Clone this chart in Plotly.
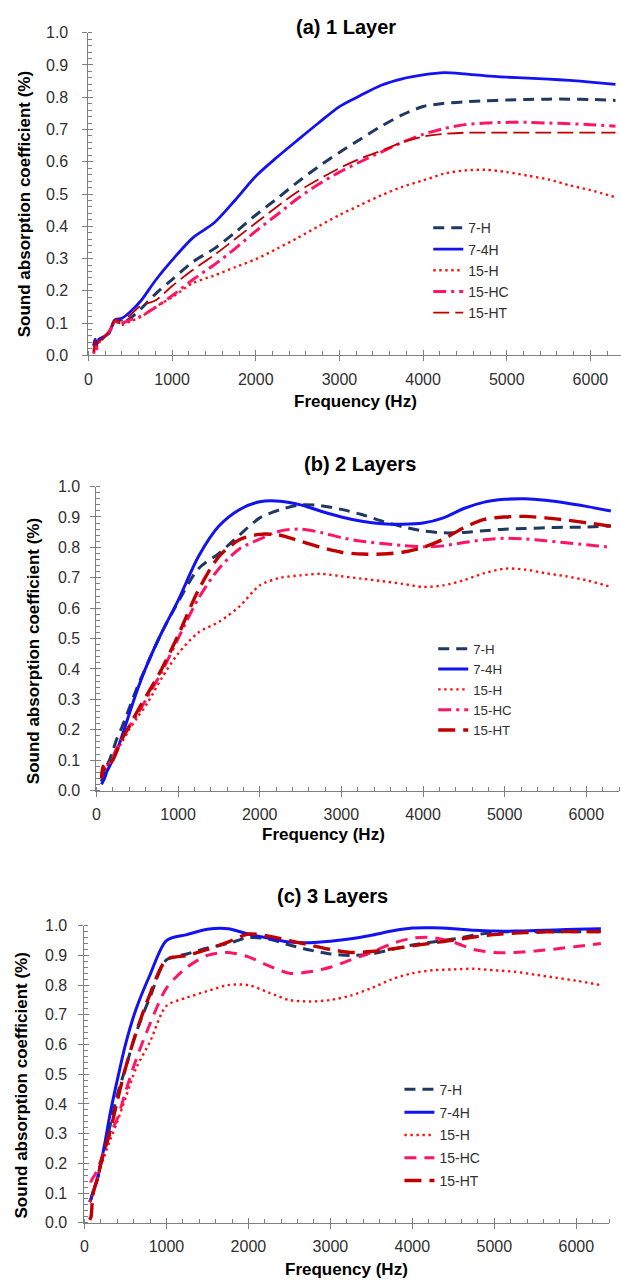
import plotly.graph_objects as go

W, H = 621, 1288

# Frequencies (Hz) at which every curve is sampled
FREQ = [63, 80, 100, 125, 160, 200, 250, 315, 400, 500, 630, 800,
        1000, 1250, 1500, 1750, 2000, 2250, 2500, 2750, 3000, 3250,
        3500, 3750, 4000, 4250, 4500, 4750, 5000, 5250, 5500, 5750,
        6000, 6300]

SERIES = ["7-H", "7-4H", "15-H", "15-HC", "15-HT"]
PANEL_TITLES = ["(a) 1 Layer", "(b) 2 Layers", "(c) 3 Layers"]
Y_TICKS = [0.0, 0.1, 0.2, 0.3, 0.4, 0.5, 0.6, 0.7, 0.8, 0.9, 1.0]
X_TICKS = [0, 1000, 2000, 3000, 4000, 5000, 6000]

# (a) one layer
A_7H = [0.030, 0.045, 0.030, 0.045, 0.050, 0.060, 0.070, 0.105, 0.100, 0.115, 0.145, 0.190,
        0.235, 0.290, 0.330, 0.380, 0.435, 0.485, 0.537, 0.585, 0.629, 0.670,
        0.710, 0.745, 0.771, 0.781, 0.786, 0.789, 0.791, 0.793, 0.794, 0.794,
        0.793, 0.790]
A_74H = [0.030, 0.050, 0.035, 0.050, 0.055, 0.060, 0.070, 0.110, 0.115, 0.135, 0.170, 0.232,
         0.295, 0.365, 0.410, 0.480, 0.555, 0.613, 0.667, 0.720, 0.771, 0.805,
         0.837, 0.857, 0.869, 0.876, 0.872, 0.866, 0.862, 0.859, 0.856, 0.852,
         0.847, 0.840]
A_15H = [0.015, 0.040, 0.025, 0.045, 0.050, 0.060, 0.070, 0.105, 0.095, 0.105, 0.120, 0.150,
         0.180, 0.224, 0.247, 0.273, 0.298, 0.330, 0.364, 0.400, 0.435, 0.466,
         0.496, 0.522, 0.542, 0.563, 0.573, 0.575, 0.568, 0.557, 0.545, 0.527,
         0.512, 0.490]
A_15HC = [0.005, 0.030, 0.020, 0.040, 0.050, 0.060, 0.075, 0.105, 0.100, 0.110, 0.122, 0.148,
          0.185, 0.235, 0.280, 0.330, 0.385, 0.435, 0.486, 0.530, 0.568, 0.600,
          0.630, 0.660, 0.685, 0.703, 0.715, 0.720, 0.722, 0.722, 0.720, 0.718,
          0.715, 0.710]
A_15HT = [0.010, 0.045, 0.025, 0.045, 0.050, 0.060, 0.075, 0.110, 0.108, 0.125, 0.155, 0.170,
          0.215, 0.265, 0.310, 0.360, 0.410, 0.460, 0.507, 0.545, 0.580, 0.610,
          0.634, 0.660, 0.678, 0.686, 0.690, 0.690, 0.690, 0.690, 0.690, 0.690,
          0.690, 0.690]

# (b) two layers
B_7H = [0.030, 0.050, 0.060, 0.080, 0.100, 0.130, 0.170, 0.210, 0.270, 0.340, 0.420, 0.520,
        0.620, 0.730, 0.780, 0.840, 0.897, 0.924, 0.940, 0.937, 0.925, 0.908,
        0.886, 0.868, 0.854, 0.848, 0.849, 0.855, 0.860, 0.862, 0.865, 0.866,
        0.867, 0.870]
B_74H = [0.020, 0.030, 0.040, 0.060, 0.080, 0.100, 0.130, 0.180, 0.250, 0.330, 0.420, 0.520,
         0.625, 0.770, 0.870, 0.924, 0.950, 0.952, 0.940, 0.919, 0.900, 0.886,
         0.878, 0.876, 0.880, 0.897, 0.928, 0.949, 0.958, 0.960, 0.955, 0.946,
         0.935, 0.920]
B_15H = [0.050, 0.070, 0.070, 0.080, 0.090, 0.100, 0.130, 0.160, 0.200, 0.240, 0.290, 0.370,
         0.450, 0.520, 0.555, 0.605, 0.675, 0.700, 0.708, 0.713, 0.705, 0.697,
         0.689, 0.680, 0.670, 0.675, 0.692, 0.715, 0.730, 0.727, 0.715, 0.705,
         0.692, 0.670]
B_15HC = [0.040, 0.070, 0.070, 0.080, 0.090, 0.110, 0.140, 0.170, 0.210, 0.250, 0.310, 0.390,
          0.500, 0.632, 0.730, 0.795, 0.827, 0.854, 0.860, 0.849, 0.832, 0.820,
          0.813, 0.806, 0.802, 0.805, 0.816, 0.825, 0.830, 0.828, 0.822, 0.815,
          0.809, 0.800]
B_15HT = [0.040, 0.080, 0.070, 0.080, 0.090, 0.100, 0.130, 0.170, 0.210, 0.260, 0.320, 0.400,
          0.510, 0.660, 0.770, 0.825, 0.843, 0.840, 0.820, 0.800, 0.784, 0.778,
          0.778, 0.784, 0.800, 0.827, 0.865, 0.892, 0.900, 0.902, 0.897, 0.890,
          0.881, 0.870]

# (c) three layers
C_7H = [0.070, 0.080, 0.100, 0.120, 0.150, 0.200, 0.250, 0.330, 0.430, 0.520, 0.640, 0.760,
        0.885, 0.905, 0.925, 0.940, 0.960, 0.955, 0.935, 0.918, 0.905, 0.900,
        0.905, 0.920, 0.935, 0.945, 0.955, 0.968, 0.978, 0.980, 0.980, 0.980,
        0.980, 0.980]
C_74H = [0.070, 0.080, 0.100, 0.120, 0.150, 0.200, 0.270, 0.370, 0.480, 0.600, 0.720, 0.835,
         0.950, 0.970, 0.988, 0.990, 0.972, 0.958, 0.945, 0.943, 0.948, 0.956,
         0.968, 0.982, 0.992, 0.993, 0.990, 0.985, 0.982, 0.982, 0.984, 0.986,
         0.988, 0.990]
C_15H = [0.070, 0.080, 0.100, 0.120, 0.150, 0.190, 0.230, 0.280, 0.340, 0.420, 0.520, 0.610,
         0.730, 0.758, 0.780, 0.800, 0.800, 0.775, 0.750, 0.745, 0.750, 0.765,
         0.790, 0.820, 0.840, 0.850, 0.853, 0.855, 0.850, 0.845, 0.835, 0.825,
         0.815, 0.800]
C_15HC = [0.140, 0.140, 0.150, 0.160, 0.180, 0.210, 0.250, 0.300, 0.350, 0.440, 0.550, 0.670,
          0.790, 0.860, 0.900, 0.910, 0.895, 0.865, 0.840, 0.845, 0.860, 0.885,
          0.910, 0.940, 0.958, 0.960, 0.945, 0.920, 0.910, 0.910, 0.915, 0.922,
          0.930, 0.940]
C_15HT = [0.010, 0.020, 0.090, 0.120, 0.150, 0.200, 0.250, 0.310, 0.410, 0.520, 0.640, 0.770,
          0.885, 0.900, 0.920, 0.945, 0.972, 0.965, 0.950, 0.935, 0.920, 0.910,
          0.913, 0.922, 0.932, 0.942, 0.952, 0.962, 0.970, 0.975, 0.978, 0.980,
          0.980, 0.980]

PANEL_DATA = [
    [A_7H, A_74H, A_15H, A_15HC, A_15HT],
    [B_7H, B_74H, B_15H, B_15HC, B_15HT],
    [C_7H, C_74H, C_15H, C_15HC, C_15HT],
]

COLORS = {"7-H": "#1f3864", "7-4H": "#1212f2", "15-H": "#ff1010",
          "15-HC": "#ff1466", "15-HT": "#c00000"}

# line style per panel: (width, dash)
STYLES = [
    {"7-H": (3.0, "11px,7px"), "7-4H": (2.8, "solid"), "15-H": (2.4, "2.4px,3.6px"),
     "15-HC": (3.0, "13px,5px,3px,5px"), "15-HT": (1.8, "16px,6px")},
    {"7-H": (3.0, "11px,7px"), "7-4H": (3.0, "solid"), "15-H": (2.4, "2.4px,3.6px"),
     "15-HC": (3.0, "13px,5px,3px,5px"), "15-HT": (3.4, "17px,8px")},
    {"7-H": (3.0, "11px,7px"), "7-4H": (3.0, "solid"), "15-H": (2.4, "2.4px,3.6px"),
     "15-HC": (3.0, "12px,8px"), "15-HT": (3.4, "17px,8px")},
]

FONT = "Arial, 'Liberation Sans', sans-serif"
AXIS_GREY = "#7f7f7f"
TEXT_DARK = "#303030"


def px(x):
    return x / W


def py(y):
    return 1 - y / H


# plot-area geometry in pixels: left, right, top (y=1), bottom (y=0), x max
PANELS = [
    dict(left=85, right=621, top=25, bottom=352, xmax=(621 - 85) / 84.2 * 1000, ystand=11),
    dict(left=93, right=619, top=485, bottom=793, xmax=6400, ystand=7),
    dict(left=81, right=609, top=930, bottom=1231, xmax=6400, ystand=8),
]

LEGENDS = [
    dict(x=427, top=207, gap=0, size=14),
    dict(x=432, top=634, gap=0, size=13.3),
    dict(x=398, top=1080, gap=1.6, size=14),
]

TITLE_POS = [(344, 19), (358, 462), (331, 900)]
XTITLE_POS = [(354, 399), (322, 838), (345, 1278)]
YTITLE_POS = [(21, 199), (30, 652), (18, 1092)]

fig = go.Figure()
layout = dict(
    width=W, height=H, margin=dict(l=0, r=0, t=0, b=0),
    paper_bgcolor="white", plot_bgcolor="white",
    font=dict(family=FONT, color=TEXT_DARK),
    annotations=[],
)

for i, p in enumerate(PANELS):
    n = i + 1
    xa = "x" if n == 1 else f"x{n}"
    ya = "y" if n == 1 else f"y{n}"
    xo = f"x{n + 3}"
    yo = f"y{n + 3}"
    leg = "legend" if n == 1 else f"legend{n}"

    for k, name in enumerate(SERIES):
        w, dash = STYLES[i][name]
        fig.add_trace(go.Scatter(
            x=FREQ, y=PANEL_DATA[i][k], mode="lines", name=name,
            line=dict(color=COLORS[name], width=w, dash=dash, shape="spline", smoothing=0.8),
            xaxis=xa, yaxis=ya, legend=leg,
            legendgroup=f"{leg}-{name}",
        ))

    # empty traces that carry the inner halves of the major ticks
    fig.add_trace(go.Scatter(x=[], y=[], xaxis=xo, yaxis=ya, showlegend=False, hoverinfo="skip"))
    fig.add_trace(go.Scatter(x=[], y=[], xaxis=xa, yaxis=yo, showlegend=False, hoverinfo="skip"))

    xdom = [px(p["left"]), px(p["right"])]
    ydom = [py(p["bottom"]), py(p["top"])]
    xr = [0, p["xmax"]]

    common = dict(showgrid=False, zeroline=False, fixedrange=True)
    layout["xaxis" if n == 1 else f"xaxis{n}"] = dict(
        domain=xdom, range=xr, anchor=ya, tickvals=X_TICKS,
        ticks="outside", ticklen=5, tickcolor=AXIS_GREY, tickwidth=1,
        showline=True, linecolor=AXIS_GREY, linewidth=1,
        minor=dict(dtick=200, tick0=0, ticks="inside", ticklen=4,
                   tickcolor=AXIS_GREY, tickwidth=1),
        tickfont=dict(size=16, color=TEXT_DARK), ticklabelstandoff=4, **common)
    layout["yaxis" if n == 1 else f"yaxis{n}"] = dict(
        domain=ydom, range=[0, 1], anchor=xa, tickvals=Y_TICKS,
        tickformat=".1f",
        ticks="outside", ticklen=5, tickcolor=AXIS_GREY, tickwidth=1,
        showline=True, linecolor=AXIS_GREY, linewidth=1,
        minor=dict(dtick=0.02, tick0=0, ticks="inside", ticklen=4,
                   tickcolor=AXIS_GREY, tickwidth=1),
        tickfont=dict(size=16, color=TEXT_DARK), ticklabelstandoff=p["ystand"], **common)
    layout[f"xaxis{n + 3}"] = dict(
        domain=xdom, range=xr, anchor=ya, overlaying=xa, side="bottom",
        tickvals=X_TICKS, ticks="inside", ticklen=5, tickcolor=AXIS_GREY,
        showticklabels=False, showline=False, **common)
    layout[f"yaxis{n + 3}"] = dict(
        domain=ydom, range=[0, 1], anchor=xa, overlaying=ya, side="left",
        tickvals=Y_TICKS, ticks="inside", ticklen=5, tickcolor=AXIS_GREY,
        showticklabels=False, showline=False, **common)

    lg = LEGENDS[i]
    layout[leg] = dict(
        x=px(lg["x"]), y=py(lg["top"]), xanchor="left", yanchor="top",
        bgcolor="rgba(0,0,0,0)", borderwidth=0, tracegroupgap=lg["gap"],
        font=dict(size=lg["size"], color=TEXT_DARK, family=FONT),
        itemclick=False, itemdoubleclick=False,
    )

    tx, ty = TITLE_POS[i]
    layout["annotations"].append(dict(
        text=f"<b>{PANEL_TITLES[i]}</b>", x=px(tx), y=py(ty), xref="paper", yref="paper",
        xanchor="center", yanchor="middle", showarrow=False,
        font=dict(size=20, color="black", family=FONT)))
    fx, fy = XTITLE_POS[i]
    layout["annotations"].append(dict(
        text="<b>Frequency (Hz)</b>", x=px(fx), y=py(fy), xref="paper", yref="paper",
        xanchor="center", yanchor="middle", showarrow=False,
        font=dict(size=17, color="black", family=FONT)))
    sx, sy = YTITLE_POS[i]
    layout["annotations"].append(dict(
        text="<b>Sound absorption coefficient (%)</b>", x=px(sx), y=py(sy),
        xref="paper", yref="paper", textangle=-90,
        xanchor="center", yanchor="middle", showarrow=False,
        font=dict(size=17, color="black", family=FONT)))

fig.update_layout(**layout)
fig.write_html("out.html")
